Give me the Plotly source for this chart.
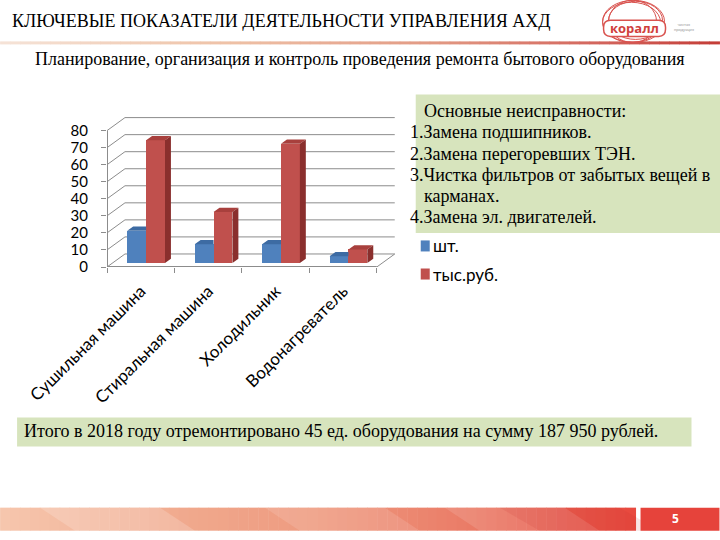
import plotly.graph_objects as go

# ---------------- data ----------------
categories = ["Сушильная машина", "Стиральная машина", "Холодильник", "Водонагреватель"]
pieces = [19, 11, 11, 4]          # шт.
thousand_rub = [72, 30, 70, 8]    # тыс.руб.
series_names = ["шт.", "тыс.руб."]
y_ticks = [0, 10, 20, 30, 40, 50, 60, 70, 80]

title_text = "КЛЮЧЕВЫЕ ПОКАЗАТЕЛИ ДЕЯТЕЛЬНОСТИ УПРАВЛЕНИЯ АХД"
subtitle_text = "Планирование, организация и контроль проведения ремонта бытового оборудования"
box_title = "Основные неисправности:"
box_lines = [("1.Замена подшипников.", 0), ("2.Замена перегоревших ТЭН.", 0),
             ("3.Чистка фильтров от забытых вещей в", 0), ("карманах.", 1),
             ("4.Замена эл. двигателей.", 0)]
total_text = "Итого в 2018 году отремонтировано 45 ед. оборудования на сумму 187 950 рублей."
page_no = "5"

# ---------------- geometry / style ----------------
W, H = 720, 540
XU = 67.5            # px per category unit
YU = 1.7             # px per value unit
L = 107
XMAX, YMAX = 4.3, 88
PW = XMAX * XU
PH = YMAX * YU
R = W - L - PW
B = 540 - 267
T = H - B - PH

DX = 18 / XU         # depth offset of back wall (x units)
DY = 13 / YU         # depth offset of back wall (y units)
Z0, Z1 = 0.3, 0.63   # bar front / back depth fractions
BW = 0.28            # bar width
GRID = "#8c8c8c"

BLUE, BLUE_TOP = "#4f81bd", "#3d6ba3"
RED, RED_TOP, RED_SIDE = "#c0504d", "#a8403d", "#8a2f2d"
SERIF = "Liberation Serif, Times New Roman, serif"
SANS = "Lato"


def px(x):
    return (x - L) / PW


def py(y):
    return (H - B - y) / PH


def lerp(c1, c2, t):
    a = [int(c1[i:i + 2], 16) for i in (1, 3, 5)]
    b = [int(c2[i:i + 2], 16) for i in (1, 3, 5)]
    return "#" + "".join(f"{round(a[k] + (b[k] - a[k]) * t):02x}" for k in range(3))


def multi_grad(stops, t):
    for (t0, c0), (t1, c1) in zip(stops, stops[1:]):
        if t0 <= t <= t1:
            return lerp(c0, c1, (t - t0) / (t1 - t0) if t1 > t0 else 0)
    return stops[-1][1]


fig = go.Figure()

centers = [i + 0.5 for i in range(len(categories))]
b0 = Z0 * DY
ddx = (Z1 - Z0) * DX
ddy = (Z1 - Z0) * DY
shift = Z0 * DX

# front faces (bars)
fig.add_trace(go.Bar(x=[c - BW / 2 + shift for c in centers], y=pieces, base=b0, width=BW,
                     marker=dict(color=BLUE, line=dict(width=0)), name=series_names[0],
                     showlegend=False))
fig.add_trace(go.Bar(x=[c + BW / 2 + shift for c in centers], y=thousand_rub, base=b0, width=BW,
                     marker=dict(color=RED, line=dict(width=0)), name=series_names[1],
                     showlegend=False))

# 3D faces
bx, by = [], []
for c, v in zip(centers, pieces):
    xl, xr, t = c - BW + shift, c + shift, v + b0
    bx += [xl, xr, xr, xl + ddx, xl, None]
    by += [t, t, t + ddy, t + ddy, t, None]
fig.add_trace(go.Scatter(x=bx, y=by, fill="toself", fillcolor=BLUE_TOP, mode="none",
                         showlegend=False, hoverinfo="skip"))
rx, ry, sx, sy = [], [], [], []
for c, v in zip(centers, thousand_rub):
    xl, xr, t = c + shift, c + BW + shift, v + b0
    rx += [xl, xr, xr + ddx, xl + ddx, xl, None]
    ry += [t, t, t + ddy, t + ddy, t, None]
    sx += [xr, xr + ddx, xr + ddx, xr, xr, None]
    sy += [b0, b0 + ddy, t + ddy, t, b0, None]
fig.add_trace(go.Scatter(x=rx, y=ry, fill="toself", fillcolor=RED_TOP, mode="none",
                         showlegend=False, hoverinfo="skip"))
fig.add_trace(go.Scatter(x=sx, y=sy, fill="toself", fillcolor=RED_SIDE, mode="none",
                         showlegend=False, hoverinfo="skip"))
# dummy trace for tick axis
fig.add_trace(go.Scatter(x=[0, 4], y=[0, 0], xaxis="x2", mode="none", showlegend=False,
                         hoverinfo="skip"))

shapes = []
# back wall & side gridlines
for v in y_ticks:
    shapes.append(dict(type="line", xref="x", yref="y", x0=DX, y0=v + DY, x1=4 + DX, y1=v + DY,
                       line=dict(color=GRID, width=1), layer="below"))
    shapes.append(dict(type="line", xref="x", yref="y", x0=0, y0=v, x1=DX, y1=v + DY,
                       line=dict(color=GRID, width=1), layer="below"))
# floor edges and vertical axis
shapes.append(dict(type="line", xref="x", yref="y", x0=0, y0=0, x1=4, y1=0,
                   line=dict(color=GRID, width=2), layer="below"))
shapes.append(dict(type="line", xref="x", yref="y", x0=4, y0=0, x1=4 + DX, y1=DY,
                   line=dict(color=GRID, width=1), layer="below"))
shapes.append(dict(type="line", xref="x", yref="y", x0=0, y0=0, x1=0, y1=y_ticks[-1],
                   line=dict(color=GRID, width=2), layer="below"))

# title underline gradient
N = 72
ul_stops = [(0, "#f5e2d6"), (0.3, "#efc3a8"), (0.6, "#e29a84"), (0.85, "#d2625a"), (1, "#c43e38")]
for i in range(N):
    x0 = i * W / N
    shapes.append(dict(type="rect", xref="paper", yref="paper", x0=px(x0), x1=px(x0 + W / N + 0.5),
                       y0=py(45), y1=py(42), line=dict(width=0),
                       fillcolor=multi_grad(ul_stops, i / (N - 1))))

# footer gradient band
ft_stops = [(0, "#f6c6ad"), (0.3, "#f0a88c"), (0.5, "#ee9a7f"), (0.75, "#ea7b66"), (0.9, "#e85a4c"), (1, "#e84a3f")]
FN = 64
fw = 636 / FN
for i in range(FN):
    x0 = i * fw
    shapes.append(dict(type="rect", xref="paper", yref="paper", x0=px(x0), x1=px(x0 + fw + 0.5),
                       y0=py(530), y1=py(507), line=dict(width=0),
                       fillcolor=multi_grad(ft_stops, i / (FN - 1))))
# subtle diagonal facets in footer
for (a, bb, col) in [(40, 75, "rgba(255,255,255,0.18)"), (265, 300, "rgba(255,255,255,0.12)"),
                     (445, 480, "rgba(255,255,255,0.12)"), (500, 540, "rgba(200,40,40,0.12)")]:
    shapes.append(dict(type="path", xref="paper", yref="paper",
                       path=f"M{px(a)},{py(507)} L{px(bb)},{py(530)} L{px(bb + 120)},{py(530)} L{px(a + 120)},{py(507)} Z",
                       fillcolor=col, line=dict(width=0)))
shapes.append(dict(type="rect", xref="paper", yref="paper", x0=px(641), x1=px(720),
                   y0=py(530), y1=py(507), line=dict(width=0), fillcolor="#e6433b"))

# green boxes
shapes.append(dict(type="rect", xref="paper", yref="paper", x0=px(416), x1=px(721),
                   y0=py(233), y1=py(95), line=dict(width=0), fillcolor="#d7e4bd", layer="below"))
shapes.append(dict(type="rect", xref="paper", yref="paper", x0=px(17), x1=px(692),
                   y0=py(446), y1=py(417), line=dict(width=0), fillcolor="#d7e4bd", layer="below"))

# legend (manual)
leg_colors = [BLUE, RED]
leg_y = [246, 274]
for col, yy in zip(leg_colors, leg_y):
    shapes.append(dict(type="rect", xref="paper", yref="paper", x0=px(421), x1=px(430),
                       y0=py(yy + 5.5), y1=py(yy - 5.5), line=dict(width=0), fillcolor=col))

# logo
for (cx, cy, rx_, ry_) in [(634, 22, 31, 21), (632, 23, 29, 20), (636, 21, 27, 19), (633, 22, 24, 21)]:
    shapes.append(dict(type="circle", xref="paper", yref="paper", x0=px(cx - rx_), x1=px(cx + rx_),
                       y0=py(cy + ry_), y1=py(cy - ry_), line=dict(color="#d9534f", width=1)))
lx0, lx1, ly0, ly1, rr = 604, 666, 21, 37, 7
shapes.append(dict(type="path", xref="paper", yref="paper",
                   path=(f"M{px(lx0 + rr)},{py(ly0)} L{px(lx1 - rr)},{py(ly0)} "
                         f"Q{px(lx1)},{py(ly0)} {px(lx1)},{py(ly0 + rr)} L{px(lx1)},{py(ly1 - rr)} "
                         f"Q{px(lx1)},{py(ly1)} {px(lx1 - rr)},{py(ly1)} L{px(lx0 + rr)},{py(ly1)} "
                         f"Q{px(lx0)},{py(ly1)} {px(lx0)},{py(ly1 - rr)} L{px(lx0)},{py(ly0 + rr)} "
                         f"Q{px(lx0)},{py(ly0)} {px(lx0 + rr)},{py(ly0)} Z"),
                   fillcolor="white", line=dict(color="#d9534f", width=1.5)))

annotations = []


def text(x, y, s, size, font=SERIF, color="black", xanchor="left", bold=False):
    annotations.append(dict(x=px(x), y=py(y), xref="paper", yref="paper", text=(f"<b>{s}</b>" if bold else s),
                            showarrow=False, xanchor=xanchor, yanchor="middle",
                            font=dict(family=font, size=size, color=color)))


text(10, 22, title_text, 18)
text(360, 60, subtitle_text, 18, xanchor="center")
text(422, 111, box_title, 18)
ys = [132, 154, 175, 196, 217]
for (s, indent), yy in zip(box_lines, ys):
    text(408 + indent * 14, yy, s, 18)
text(22, 431, total_text, 18)
for name, yy in zip(series_names, leg_y):
    text(431, yy, name, 17, font=SANS)
text(676, 518, page_no, 12, font="Open Sans", color="white", xanchor="center", bold=True)
text(635, 29, "коралл", 13, font="Open Sans", color="#d0403c", xanchor="center", bold=True)
text(672, 28, "чистая<br>продукция", 4, font=SANS, color="#999999")

fig.update_layout(
    width=W, height=H, margin=dict(l=L, r=R, t=T, b=B, autoexpand=False),
    paper_bgcolor="white", plot_bgcolor="rgba(0,0,0,0)",
    barmode="overlay", bargap=0,
    shapes=shapes, annotations=annotations,
    showlegend=False,
    xaxis=dict(range=[0, XMAX], tickvals=centers, ticktext=categories, tickangle=-45,
               ticks="", showgrid=False, showline=False, zeroline=False,
               tickfont=dict(family=SANS, size=17, color="black"), ticklabelstandoff=10),
    xaxis2=dict(range=[0, XMAX], overlaying="x", anchor="y", side="bottom",
                tickvals=[0, 1, 2, 3, 4], ticks="outside", ticklen=5, tickcolor=GRID,
                showticklabels=False, showgrid=False, showline=False, zeroline=False),
    yaxis=dict(range=[0, YMAX], tickvals=y_ticks, ticks="outside", ticklen=5, tickcolor=GRID,
               showgrid=False, showline=False, zeroline=False,
               tickfont=dict(family=SANS, size=15, color="black"), ticklabelstandoff=10),
)

fig.write_html("out.html", config={"displayModeBar": False},
               post_script="document.body.style.margin='0';document.body.style.overflow='hidden';")
